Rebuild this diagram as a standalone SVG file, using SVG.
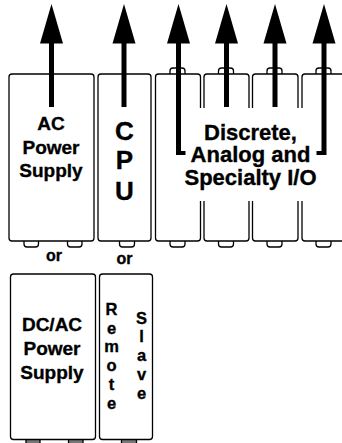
<svg xmlns="http://www.w3.org/2000/svg" width="342" height="443" viewBox="0 0 342 443">
<style>
.box{fill:#fff;stroke:#000;stroke-width:1.3}
.tab{fill:#fff;stroke:#000;stroke-width:1.3}
.tabd{fill:#777;stroke:#000;stroke-width:1.3}
.t{font-family:"Liberation Sans",Arial,Helvetica,sans-serif;font-weight:700;fill:#000;stroke:#000;stroke-width:0.35;text-anchor:middle}
.arr{fill:#000;stroke:none}
</style>
<defs>
<path id="head" d="M0,4 L-11.5,43.5 L11.5,43.5 Z"/>
</defs>
<rect width="342" height="443" fill="#fff"/>

<g id="ac-power-supply">
<rect class="tab" x="24" y="235" width="14.5" height="12" rx="3"/>
<rect class="tab" x="67.5" y="235" width="14.5" height="12" rx="3"/>
<rect class="box" x="9" y="74" width="85" height="167" rx="3"/>
<text class="t" font-size="19" x="51" y="130">AC</text>
<text class="t" font-size="19" x="51" y="153.5">Power</text>
<text class="t" font-size="19" x="51" y="177">Supply</text>
</g>

<g id="cpu">
<rect class="tab" x="119.5" y="235" width="15" height="12" rx="3"/>
<rect class="box" x="98" y="74" width="53" height="167" rx="3"/>
<text class="t" font-size="26" x="124.5" y="139.5">C</text>
<text class="t" font-size="26" x="124.5" y="169">P</text>
<text class="t" font-size="26" x="124.5" y="199.5">U</text>
</g>

<g id="io-modules">
<rect class="tab" x="170" y="68" width="15" height="12" rx="3"/>
<rect class="tab" x="218.5" y="68" width="15" height="12" rx="3"/>
<rect class="tab" x="267" y="68" width="15" height="12" rx="3"/>
<rect class="tab" x="316" y="68" width="15" height="12" rx="3"/>
<rect class="tab" x="170" y="235" width="15" height="12" rx="3"/>
<rect class="tab" x="218.5" y="235" width="15" height="12" rx="3"/>
<rect class="tab" x="267" y="235" width="15" height="12" rx="3"/>
<rect class="tab" x="316" y="235" width="15" height="12" rx="3"/>
<rect class="box" x="155.5" y="74" width="45" height="167" rx="3"/>
<rect class="box" x="204" y="74" width="45" height="167" rx="3"/>
<rect class="box" x="252.5" y="74" width="45.5" height="167" rx="3"/>
<rect class="box" x="302" y="74" width="50" height="167" rx="3"/>
</g>

<g id="io-label">
<rect x="170" y="108" width="166" height="93" fill="#fff"/>
<text class="t" font-size="22" x="250.5" y="139.5">Discrete,</text>
<text class="t" font-size="22" x="250.5" y="162">Analog and</text>
<text class="t" font-size="22" x="250.5" y="185">Specialty I/O</text>
</g>

<g id="or-labels">
<text class="t" font-size="16" x="54" y="261">or</text>
<text class="t" font-size="16" x="124.5" y="264">or</text>
</g>

<g id="dc-ac-power-supply">
<rect class="tabd" x="26" y="437" width="14" height="12" rx="2"/>
<rect class="tabd" x="68.5" y="437" width="14.5" height="12" rx="2"/>
<rect class="box" x="10.5" y="274" width="85" height="165.5" rx="3"/>
<text class="t" font-size="19" x="52" y="331">DC/AC</text>
<text class="t" font-size="19" x="52" y="355">Power</text>
<text class="t" font-size="19" x="52" y="378.5">Supply</text>
</g>

<g id="remote-slave">
<rect class="tabd" x="121.5" y="437" width="15" height="12" rx="2"/>
<rect class="box" x="99.5" y="274" width="53" height="165.5" rx="3"/>
<g class="t" font-size="16.5">
<text x="111.5" y="315">R</text>
<text x="111.5" y="333.5">e</text>
<text x="111.5" y="352">m</text>
<text x="111.5" y="371">o</text>
<text x="111.5" y="390">t</text>
<text x="111.5" y="409">e</text>
<text x="141.5" y="323.5">S</text>
<text x="141.5" y="342">l</text>
<text x="141.5" y="361">a</text>
<text x="141.5" y="380">v</text>
<text x="141.5" y="399">e</text>
</g>
</g>

<g id="connectors" class="arr">
<use href="#head" x="51.5"/>
<rect x="49" y="42" width="5" height="65"/>
<use href="#head" x="124"/>
<rect x="121.5" y="42" width="5" height="65"/>
<use href="#head" x="178.5"/>
<path d="M176,42 H181 V151 H185.5 V155 H176 Z"/>
<use href="#head" x="226.5"/>
<rect x="224" y="42" width="5" height="65"/>
<use href="#head" x="275"/>
<rect x="272.5" y="42" width="5" height="65"/>
<use href="#head" x="324"/>
<path d="M321.5,42 H326.5 V155 H316.5 V151 H321.5 Z"/>
</g>
</svg>
